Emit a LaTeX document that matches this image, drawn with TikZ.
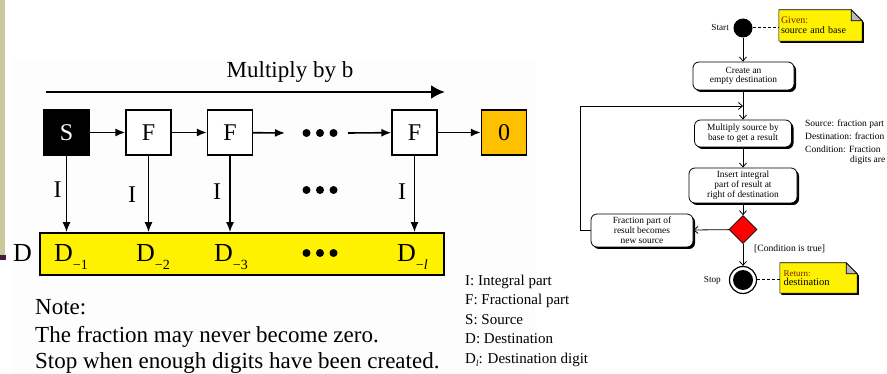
\documentclass[tikz,border=0pt]{standalone}
\usepackage{fontspec}
\setmainfont{Liberation Serif}
\usetikzlibrary{arrows.meta,shapes.geometric,shadows,backgrounds}

\definecolor{olivebar}{HTML}{C9C89B}
\definecolor{barmark}{HTML}{4A1942}
\definecolor{panel}{HTML}{FDFDFD}
\definecolor{zerobox}{HTML}{FFC000}
\definecolor{notered}{HTML}{7A1E00}

% subscripted destination digit
\newcommand\dsub[1]{D\raisebox{-8pt}{\fontsize{14}{14}\selectfont #1}}

\tikzset{
  fs/.style={font=\fontsize{#1}{#1}\selectfont},
  cell/.style={draw, line width=1.3pt, minimum width=45pt, minimum height=45pt,
    inner sep=0pt, font=\fontsize{24}{24}\selectfont},
  flow/.style={line width=1.6pt, -{Latex[length=10pt,width=8pt]}},
  act/.style={draw, line width=0.8pt, rounded corners=6pt, fill=white, align=center,
    inner sep=0pt, font=\fontsize{9.4}{9.8}\selectfont,
    drop shadow={shadow xshift=2pt, shadow yshift=-2pt, opacity=1, fill=black}},
  uarr/.style={line width=0.8pt, -{Straight Barb[length=4pt,width=7pt]}},
  dotlink/.style={line width=1pt, dash pattern=on 3pt off 2pt},
  notebox/.style={inner sep=0pt, align=left, font=\fontsize{10}{9.6}\selectfont},
  legend/.style={fs=15, anchor=base west, inner sep=0pt},
  notefill/.style={fill=yellow, draw=black, line width=0.6pt},
}

\begin{document}
\begin{tikzpicture}[x=1pt, y=-1pt]
\useasboundingbox (0,0) rectangle (887,374);

% page decoration and panel
\fill[panel] (12,58) rectangle (535,374);
\fill[olivebar] (0,0) rectangle (5,258);
\fill[barmark] (0,255) rectangle (6,260);

% ---------- multiplication scheme ----------
\node[fs=23, anchor=base] (mult) at (290,78) {Multiply by b};
\coordinate (mA) at (46,92);
\coordinate (mB) at (445,92);
\draw[line width=2.6pt, -{Latex[length=14pt,width=14pt]}] (mA) -- (mB);

\node[cell, fill=black, text=white] (S) at (66.5,132.5) {S};
\node[cell, fill=white] (F1) at (148.5,132.5) {F};
\node[cell, fill=white] (F2) at (230,132.5) {F};
\node[cell, fill=white] (F3) at (414.5,132.5) {F};
\node[cell, fill=zerobox] (Z) at (504,132.5) {0};

\node[minimum width=36pt, minimum height=8pt, inner sep=0pt] (dotsA) at (320,133) {};
\foreach \dx in {-13.5,0,13.5} \fill ([xshift=\dx pt]dotsA.center) circle (4pt);
\coordinate (dA) at (285,133);
\coordinate (dB) at (348,133);

\draw[flow] (S) -- (F1);
\draw[flow] (F1) -- (F2);
\draw[flow] (F2) -- (dA);
\draw[flow] (dB) -- (F3);
\draw[flow] (F3) -- (Z);

\node[draw, line width=1.6pt, fill=yellow, minimum width=404pt, minimum height=42pt,
  inner sep=0pt] (D) at (242,254) {};
\node[fs=26, anchor=base west, inner sep=0pt] (dlab) at (13,262) {D};

\draw[flow] (S) -- (S |- D.north);
\draw[flow] (F1) -- (F1 |- D.north);
\draw[flow] (F2) -- (F2 |- D.north);
\draw[flow] (F3) -- (F3 |- D.north);

\node[fs=24, anchor=base] (i1) at (57.5,198) {I};
\node[fs=24, anchor=base] (i2) at (132,203) {I};
\node[fs=24, anchor=base] (i3) at (217,200) {I};
\node[fs=24, anchor=base] (i4) at (402,200) {I};
\node[minimum width=36pt, minimum height=8pt, inner sep=0pt] (dotsB) at (320,190) {};
\foreach \dx in {-13.5,0,13.5} \fill ([xshift=\dx pt]dotsB.center) circle (4pt);

\node[fs=26, anchor=base west, inner sep=0pt] (d1) at (54,262) {\dsub{−1}};
\node[fs=26, anchor=base west, inner sep=0pt] (d2) at (136,262) {\dsub{−2}};
\node[fs=26, anchor=base west, inner sep=0pt] (d3) at (214,262) {\dsub{−3}};
\node[fs=26, anchor=base west, inner sep=0pt] (dl) at (397,262) {\dsub{−\textit{l}}};
\node[minimum width=36pt, minimum height=8pt, inner sep=0pt] (dotsC) at (320,253) {};
\foreach \dx in {-13.5,0,13.5} \fill ([xshift=\dx pt]dotsC.center) circle (4pt);

\node[fs=23, anchor=base west, inner sep=0pt] (n1) at (35,315) {Note:};
\node[fs=23, anchor=base west, inner sep=0pt] (n2) at (35,342) {The fraction may never become zero.};
\node[fs=23, anchor=base west, inner sep=0pt] (n3) at (35,368) {Stop when enough digits have been created.};

% legend
\node[legend] (lg1) at (465,286) {I: Integral part};
\node[legend] (lg2) at (465,305) {F: Fractional part};
\node[legend] (lg3) at (465,324) {S: Source};
\node[legend] (lg4) at (465,344) {D: Destination};
\node[legend] (lg5) at (465,363) {D\raisebox{-3pt}{\fontsize{9}{9}\selectfont\itshape l}: Destination digit};

% ---------- activity diagram ----------
\node[circle, fill=black, minimum size=19pt, inner sep=0pt] (start) at (743,28) {};
\node[fs=9.2, anchor=east, inner sep=0pt] (startlab) at (729,28) {Start};

\node[act, minimum width=101pt, minimum height=28pt] (create) at (743.5,76) {Create an\\empty destination};
\node[act, minimum width=97pt, minimum height=27pt] (multsrc) at (743,133.5) {Multiply source by\\base to get a result};
\node[act, minimum width=108pt, minimum height=35pt] (insert) at (743,185.5) {Insert integral\\part of result at\\right of destination};
\node[diamond, draw, line width=0.6pt, fill=red, minimum width=28pt, minimum height=28pt,
  inner sep=0pt] (cond) at (743,229.5) {};
\node[act, minimum width=102pt, minimum height=33pt] (frac) at (642,230.5) {Fraction part of\\result becomes\\new source};

\node[circle, draw, line width=1.2pt, fill=white, minimum size=27pt, inner sep=0pt] (stop) at (743,280) {};
\node[circle, fill=black, minimum size=20pt, inner sep=0pt] (stopin) at (stop.center) {};
\node[fs=9.2, anchor=east, inner sep=0pt] (stoplab) at (721,280) {Stop};

\coordinate (loopin) at (743,106);
\draw[uarr] (start) -- (create.north -| start);
\draw[uarr] (create.south -| multsrc) -- (multsrc);
\draw[uarr] (frac.west) -- ++(-10,0) |- (loopin);
\draw[uarr] (multsrc) -- (insert);
\draw[uarr] (insert) -- (cond);
\draw[uarr] (cond) -- (frac);
\draw[uarr] (cond) -- (stop);
\node[fs=9.6, anchor=west, inner sep=0pt] (condlab) at (754,249) {[Condition is true]};

% notes
\node[notebox, minimum width=83pt, minimum height=31pt, text width=79pt] (given) at (820.5,25.5)
  {\textcolor{notered}{Given:}\\source and base};
\node[notebox, minimum width=77pt, minimum height=30pt, text width=70pt] (ret) at (818.5,278)
  {\textcolor{notered}{\fontsize{9}{9}\selectfont Return:}\\{\fontsize{10.5}{10}\selectfont destination}};
\begin{pgfonlayer}{background}
  \foreach \n in {given,ret}{
    \fill[black] ([shift={(1.6pt,-1.6pt)}]\n.south west) -- ([shift={(1.6pt,-1.6pt)}]\n.north west)
      -- ([shift={(-9.4pt,-1.6pt)}]\n.north east) -- ([shift={(1.6pt,-12.6pt)}]\n.north east)
      -- ([shift={(1.6pt,-1.6pt)}]\n.south east) -- cycle;
    \filldraw[notefill] (\n.south west) -- (\n.north west) -- ([xshift=-11pt]\n.north east)
      -- ([yshift=-11pt]\n.north east) -- (\n.south east) -- cycle;
    \filldraw[fill=gray!55, draw=black, line width=0.6pt] ([xshift=-11pt]\n.north east)
      -- ([xshift=-11pt,yshift=-11pt]\n.north east) -- ([yshift=-11pt]\n.north east) -- cycle;
  }
\end{pgfonlayer}
\draw[dotlink] (start.east) -- (start.east -| given.west);
\draw[dotlink] (stop.east) -- (stop.east -| ret.west);

% variable descriptions running off the right edge
\begin{scope}
  \clip (560,100) rectangle (887,170);
  \node[fs=9.5, anchor=west, inner sep=0pt] (srcnote) at (805,124) {Source: fraction part};
  \node[fs=9.5, anchor=west, inner sep=0pt] (dstnote) at (805,136.5) {Destination: fraction};
  \node[fs=9.5, anchor=west, inner sep=0pt] (cndnote) at (805,149.5) {Condition: Fraction};
  \node[fs=9.5, anchor=west, inner sep=0pt] (cndnote2) at (850,160) {digits are};
\end{scope}
\end{tikzpicture}
\end{document}
